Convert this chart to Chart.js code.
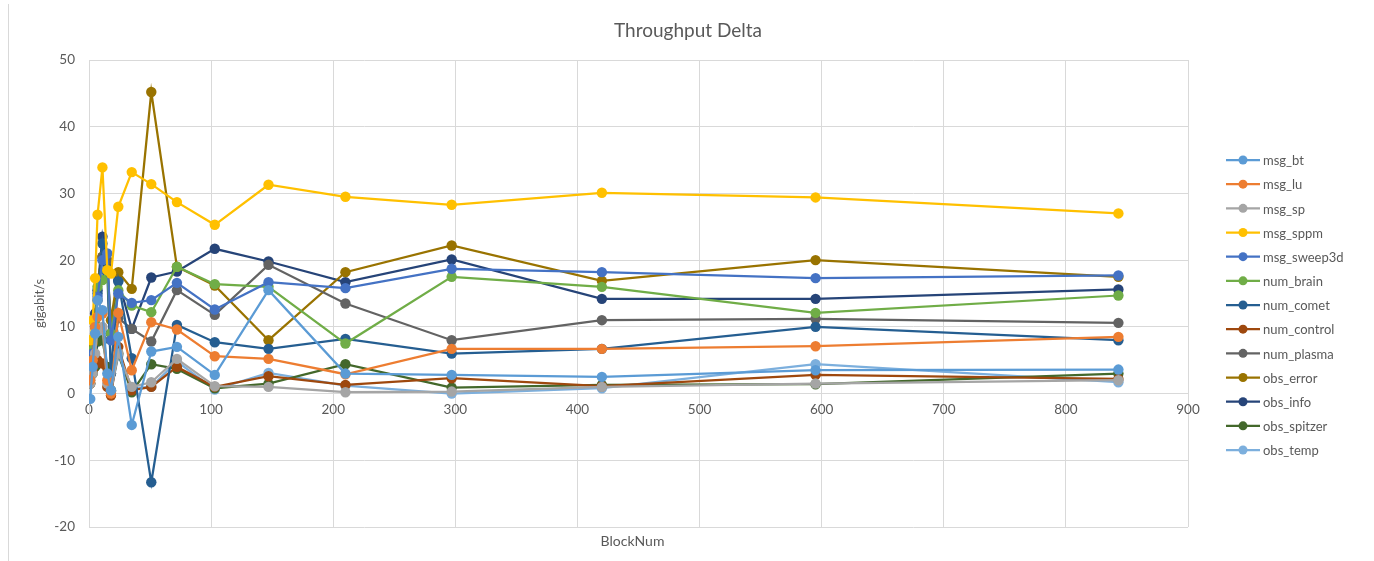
<!DOCTYPE html>
<html>
<head>
<meta charset="utf-8">
<script src="https://cdn.jsdelivr.net/npm/chart.js@4/dist/chart.umd.min.js"></script>
<style>
  html, body { margin: 0; padding: 0; background: #fff; }
  #wrap { position: relative; width: 1374px; height: 561px; }
  #frame { position: absolute; left: 8px; top: 4px; width: 0; height: 557px; border-left: 1px solid #d9d9d9; }
</style>
</head>
<body>
<div id="wrap">
  <div id="frame"></div>
  <canvas id="c" width="1374" height="561"></canvas>
</div>
<script>
// Block sizes on the horizontal axis
const blockNum = [1, 3, 5, 7, 11, 15, 18, 24, 35, 51, 72, 103, 147, 210, 297, 420, 595, 843];

// Throughput delta per benchmark (gigabit/s)
const msg_bt      = [-0.8, 4.0, 9.0, 14.0, 12.5, 3.0, 0.5, 8.5, -4.7, 6.3, 7.0, 2.8, 15.5, 3.0, 2.8, 2.5, 3.5, 3.6];
const msg_lu      = [2.0, 5.0, 10.0, 11.5, 12.0, 2.0, 0.0, 12.1, 3.5, 10.7, 9.6, 5.6, 5.2, 2.9, 6.7, 6.7, 7.1, 8.5];
const msg_sp      = [1.5, 3.0, 6.0, 9.5, 10.0, 1.5, 0.3, 6.0, 1.0, 1.7, 5.2, 1.1, 1.0, 0.2, 0.3, 1.0, 1.5, 2.0];
const msg_sppm    = [8.0, 11.0, 17.3, 26.8, 33.9, 18.5, 18.0, 28.0, 33.2, 31.4, 28.7, 25.3, 31.3, 29.5, 28.3, 30.1, 29.4, 27.0];
const msg_sweep3d = [2.5, 6.0, 10.0, 14.5, 20.0, 21.0, 8.0, 15.0, 13.6, 14.0, 16.6, 12.6, 16.7, 15.8, 18.7, 18.2, 17.3, 17.7];
const num_brain   = [3.0, 6.5, 11.0, 16.0, 17.0, 18.5, 9.0, 15.5, 13.2, 12.2, 19.0, 16.4, 16.0, 7.5, 17.5, 16.0, 12.1, 14.7];
const num_comet   = [3.0, 6.0, 10.0, 15.0, 22.5, 18.0, 3.0, 16.8, 5.3, -13.3, 10.3, 7.7, 6.7, 8.2, 6.0, 6.7, 10.0, 8.0];
const num_control = [1.5, 3.5, 4.5, 5.0, 4.5, 1.0, -0.3, 7.0, 0.5, 1.0, 4.0, 1.0, 2.6, 1.3, 2.3, 1.1, 2.8, 2.2];
const num_plasma  = [2.5, 6.0, 10.0, 14.0, 20.5, 20.0, 3.0, 11.3, 9.7, 7.8, 15.5, 11.8, 19.3, 13.5, 8.0, 11.0, 11.2, 10.6];
const obs_error   = [4.0, 7.5, 11.0, 17.0, 20.5, 18.5, 11.0, 18.2, 15.7, 45.2, 19.0, 16.2, 8.0, 18.2, 22.2, 16.9, 20.0, 17.5];
const obs_info    = [5.0, 7.0, 12.0, 15.5, 23.5, 19.5, 9.0, 17.0, 9.7, 17.4, 18.3, 21.7, 19.8, 16.7, 20.1, 14.2, 14.2, 15.6];
const obs_spitzer = [1.5, 3.0, 4.0, 7.8, 8.0, 4.0, 0.5, 6.0, 0.2, 4.4, 3.7, 0.8, 1.5, 4.4, 0.9, 1.3, 1.4, 3.0];
const obs_temp    = [2.0, 4.0, 5.8, 9.0, 9.2, 4.0, 0.3, 5.7, 0.8, 1.0, 4.8, 0.6, 3.1, 1.2, 0.0, 0.8, 4.4, 1.7];

const seriesNames = ['msg_bt', 'msg_lu', 'msg_sp', 'msg_sppm', 'msg_sweep3d', 'num_brain', 'num_comet',
                     'num_control', 'num_plasma', 'obs_error', 'obs_info', 'obs_spitzer', 'obs_temp'];
const seriesValues = [msg_bt, msg_lu, msg_sp, msg_sppm, msg_sweep3d, num_brain, num_comet,
                      num_control, num_plasma, obs_error, obs_info, obs_spitzer, obs_temp];
const seriesColors = ['#5B9BD5', '#ED7D31', '#A5A5A5', '#FFC000', '#4472C4', '#70AD47', '#255E91',
                      '#9E480E', '#636363', '#997300', '#264478', '#43682B', '#7CAFDD'];

const FONT = 'Lato, "Open Sans", "DejaVu Sans", sans-serif';
const TEXT = '#595959';
const GRID = '#d9d9d9';

const datasets = seriesNames.map((name, i) => ({
  label: name,
  data: seriesValues[i].map((v, k) => ({ x: blockNum[k], y: v })),
  borderColor: seriesColors[i],
  backgroundColor: seriesColors[i],
  borderWidth: 2.25,
  pointRadius: 5.2,
  pointHoverRadius: 5.2,
  pointBorderWidth: 0,
  tension: 0,
  fill: false
}));

// Legend on the right: line-with-marker swatch followed by the series name
const sideLegend = {
  id: 'sideLegend',
  afterDraw(chart) {
    const ctx = chart.ctx;
    const x0 = 1226, x1 = 1260, top = 160, step = 24.17;
    ctx.save();
    ctx.font = '13px ' + FONT;
    ctx.textBaseline = 'middle';
    ctx.textAlign = 'left';
    chart.data.datasets.forEach((ds, i) => {
      const y = top + i * step;
      ctx.strokeStyle = ds.borderColor;
      ctx.lineWidth = 2.25;
      ctx.beginPath();
      ctx.moveTo(x0, y);
      ctx.lineTo(x1, y);
      ctx.stroke();
      ctx.fillStyle = ds.backgroundColor;
      ctx.beginPath();
      ctx.arc((x0 + x1) / 2, y, 4.5, 0, Math.PI * 2);
      ctx.fill();
      ctx.fillStyle = TEXT;
      ctx.fillText(ds.label, x1 + 3, y + 1);
    });
    ctx.restore();
  }
};

// Chart title and the two axis titles, placed on the full canvas
const titles = {
  id: 'titles',
  afterDraw(chart) {
    const ctx = chart.ctx;
    const a = chart.chartArea;
    ctx.save();
    ctx.fillStyle = TEXT;
    ctx.textAlign = 'center';
    ctx.textBaseline = 'middle';
    ctx.font = '19px ' + FONT;
    ctx.fillText('Throughput Delta', 688, 31);
    ctx.font = '14px ' + FONT;
    ctx.fillText('BlockNum', (a.left + a.right) / 2 - 6, 541);
    ctx.translate(40, (a.top + a.bottom) / 2 + 10);
    ctx.rotate(-Math.PI / 2);
    ctx.font = '13px ' + FONT;
    ctx.fillText('gigabit/s', 0, 0);
    ctx.restore();
  }
};

new Chart(document.getElementById('c'), {
  type: 'line',
  data: { datasets },
  plugins: [sideLegend, titles],
  options: {
    responsive: false,
    animation: false,
    events: [],
    layout: { padding: { left: 0, right: 186, bottom: 34, top: 60 } },
    plugins: {
      legend: { display: false },
      tooltip: { enabled: false },
      title: { display: false }
    },
    scales: {
      x: {
        type: 'linear',
        position: { y: 0 },
        min: 0, max: 900,
        ticks: { stepSize: 100, color: TEXT, font: { family: FONT, size: 13.5 }, padding: 8 },
        grid: { color: GRID, drawTicks: false },
        border: { color: GRID }
      },
      y: {
        type: 'linear',
        min: -20, max: 50,
        ticks: { stepSize: 10, color: TEXT, font: { family: FONT, size: 13.5 }, padding: 14 },
        grid: { color: GRID, drawTicks: false },
        border: { color: GRID },
        afterFit(scale) { scale.width = 89; }
      }
    }
  }
});
</script>
</body>
</html>
